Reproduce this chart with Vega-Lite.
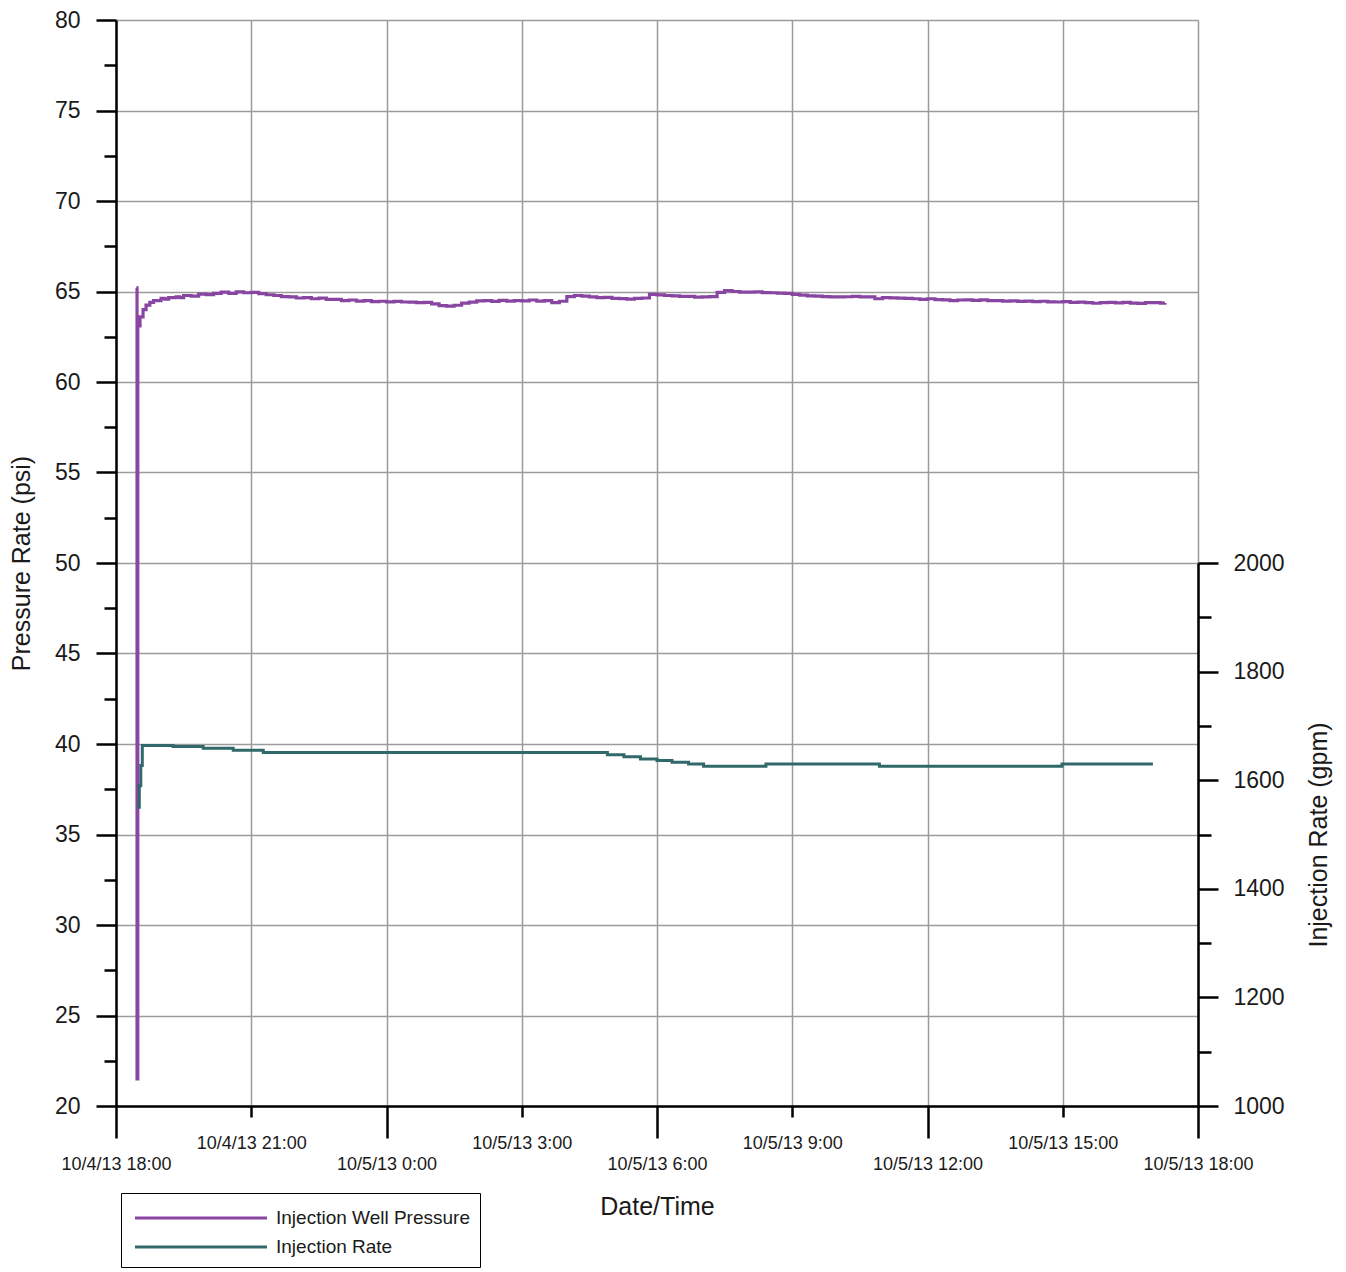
{
  "$schema": "https://vega.github.io/schema/vega-lite/v6.json",
  "width": 1082,
  "height": 1086,
  "autosize": {"type": "none"},
  "padding": {"left": 116, "top": 20, "right": 148, "bottom": 166},
  "background": "white",
  "config": {
    "view": {"stroke": null},
    "font": "Liberation Sans",
    "axis": {
      "domainColor": "#000000",
      "domainWidth": 2.5,
      "tickColor": "#000000",
      "tickWidth": 2.5,
      "gridColor": "#9b9b9b",
      "gridWidth": 1.5,
      "labelFont": "Liberation Sans",
      "labelColor": "#1a1a1a",
      "titleFont": "Liberation Sans",
      "titleFontWeight": "normal",
      "titleColor": "#1a1a1a",
      "titleFontSize": 25
    },
    "axisX": {"labelFontSize": 18},
    "axisY": {"labelFontSize": 23}
  },
  "datasets": {
    "pressure": [
      {"t": "2013-10-04T18:27", "p": 65.2},
      {"t": "2013-10-04T18:28", "p": 21.5},
      {"t": "2013-10-04T18:29", "p": 63.1},
      {"t": "2013-10-04T18:32", "p": 63.6},
      {"t": "2013-10-04T18:36", "p": 64.0},
      {"t": "2013-10-04T18:40", "p": 64.25},
      {"t": "2013-10-04T18:45", "p": 64.4},
      {"t": "2013-10-04T18:50", "p": 64.5},
      {"t": "2013-10-04T19:00", "p": 64.62},
      {"t": "2013-10-04T19:05", "p": 64.58},
      {"t": "2013-10-04T19:10", "p": 64.66},
      {"t": "2013-10-04T19:20", "p": 64.7},
      {"t": "2013-10-04T19:25", "p": 64.66},
      {"t": "2013-10-04T19:30", "p": 64.78},
      {"t": "2013-10-04T19:40", "p": 64.74},
      {"t": "2013-10-04T19:50", "p": 64.86},
      {"t": "2013-10-04T20:00", "p": 64.83},
      {"t": "2013-10-04T20:10", "p": 64.9},
      {"t": "2013-10-04T20:20", "p": 64.97},
      {"t": "2013-10-04T20:30", "p": 64.9},
      {"t": "2013-10-04T20:40", "p": 64.98},
      {"t": "2013-10-04T20:50", "p": 64.93},
      {"t": "2013-10-04T21:00", "p": 64.95},
      {"t": "2013-10-04T21:10", "p": 64.88},
      {"t": "2013-10-04T21:20", "p": 64.82},
      {"t": "2013-10-04T21:30", "p": 64.78},
      {"t": "2013-10-04T21:40", "p": 64.72},
      {"t": "2013-10-04T21:50", "p": 64.7},
      {"t": "2013-10-04T22:00", "p": 64.64},
      {"t": "2013-10-04T22:10", "p": 64.66},
      {"t": "2013-10-04T22:20", "p": 64.6},
      {"t": "2013-10-04T22:30", "p": 64.63},
      {"t": "2013-10-04T22:40", "p": 64.56},
      {"t": "2013-10-04T22:50", "p": 64.57},
      {"t": "2013-10-04T23:00", "p": 64.5},
      {"t": "2013-10-04T23:10", "p": 64.53},
      {"t": "2013-10-04T23:20", "p": 64.47},
      {"t": "2013-10-04T23:30", "p": 64.5},
      {"t": "2013-10-04T23:40", "p": 64.44},
      {"t": "2013-10-04T23:50", "p": 64.46},
      {"t": "2013-10-05T00:00", "p": 64.43},
      {"t": "2013-10-05T00:10", "p": 64.45},
      {"t": "2013-10-05T00:20", "p": 64.42},
      {"t": "2013-10-05T00:30", "p": 64.41},
      {"t": "2013-10-05T00:40", "p": 64.38},
      {"t": "2013-10-05T00:50", "p": 64.4},
      {"t": "2013-10-05T01:00", "p": 64.32},
      {"t": "2013-10-05T01:10", "p": 64.22},
      {"t": "2013-10-05T01:20", "p": 64.19},
      {"t": "2013-10-05T01:30", "p": 64.24},
      {"t": "2013-10-05T01:40", "p": 64.36},
      {"t": "2013-10-05T01:50", "p": 64.41},
      {"t": "2013-10-05T02:00", "p": 64.48},
      {"t": "2013-10-05T02:10", "p": 64.5},
      {"t": "2013-10-05T02:20", "p": 64.45},
      {"t": "2013-10-05T02:30", "p": 64.51},
      {"t": "2013-10-05T02:40", "p": 64.47},
      {"t": "2013-10-05T02:50", "p": 64.5},
      {"t": "2013-10-05T03:00", "p": 64.48},
      {"t": "2013-10-05T03:10", "p": 64.53},
      {"t": "2013-10-05T03:20", "p": 64.47},
      {"t": "2013-10-05T03:30", "p": 64.5},
      {"t": "2013-10-05T03:40", "p": 64.38},
      {"t": "2013-10-05T03:50", "p": 64.46},
      {"t": "2013-10-05T04:00", "p": 64.72},
      {"t": "2013-10-05T04:10", "p": 64.78},
      {"t": "2013-10-05T04:20", "p": 64.74},
      {"t": "2013-10-05T04:30", "p": 64.7},
      {"t": "2013-10-05T04:40", "p": 64.66},
      {"t": "2013-10-05T04:50", "p": 64.67},
      {"t": "2013-10-05T05:00", "p": 64.62},
      {"t": "2013-10-05T05:10", "p": 64.61},
      {"t": "2013-10-05T05:20", "p": 64.58},
      {"t": "2013-10-05T05:30", "p": 64.62},
      {"t": "2013-10-05T05:40", "p": 64.64},
      {"t": "2013-10-05T05:50", "p": 64.84},
      {"t": "2013-10-05T06:00", "p": 64.81},
      {"t": "2013-10-05T06:10", "p": 64.78},
      {"t": "2013-10-05T06:20", "p": 64.76},
      {"t": "2013-10-05T06:30", "p": 64.73},
      {"t": "2013-10-05T06:40", "p": 64.73},
      {"t": "2013-10-05T06:50", "p": 64.69},
      {"t": "2013-10-05T07:00", "p": 64.7},
      {"t": "2013-10-05T07:10", "p": 64.72},
      {"t": "2013-10-05T07:20", "p": 64.95},
      {"t": "2013-10-05T07:30", "p": 65.05},
      {"t": "2013-10-05T07:40", "p": 65.0},
      {"t": "2013-10-05T07:50", "p": 64.97},
      {"t": "2013-10-05T08:00", "p": 64.96},
      {"t": "2013-10-05T08:10", "p": 64.98},
      {"t": "2013-10-05T08:20", "p": 64.94},
      {"t": "2013-10-05T08:30", "p": 64.93},
      {"t": "2013-10-05T08:40", "p": 64.91},
      {"t": "2013-10-05T08:50", "p": 64.9},
      {"t": "2013-10-05T09:00", "p": 64.84},
      {"t": "2013-10-05T09:10", "p": 64.8},
      {"t": "2013-10-05T09:20", "p": 64.76},
      {"t": "2013-10-05T09:30", "p": 64.74},
      {"t": "2013-10-05T09:40", "p": 64.72},
      {"t": "2013-10-05T09:50", "p": 64.7},
      {"t": "2013-10-05T10:00", "p": 64.7},
      {"t": "2013-10-05T10:10", "p": 64.71},
      {"t": "2013-10-05T10:20", "p": 64.73},
      {"t": "2013-10-05T10:30", "p": 64.7},
      {"t": "2013-10-05T10:40", "p": 64.7},
      {"t": "2013-10-05T10:50", "p": 64.6},
      {"t": "2013-10-05T11:00", "p": 64.66},
      {"t": "2013-10-05T11:10", "p": 64.65},
      {"t": "2013-10-05T11:20", "p": 64.63},
      {"t": "2013-10-05T11:30", "p": 64.62},
      {"t": "2013-10-05T11:40", "p": 64.6},
      {"t": "2013-10-05T11:50", "p": 64.57},
      {"t": "2013-10-05T12:00", "p": 64.6},
      {"t": "2013-10-05T12:10", "p": 64.55},
      {"t": "2013-10-05T12:20", "p": 64.54},
      {"t": "2013-10-05T12:30", "p": 64.5},
      {"t": "2013-10-05T12:40", "p": 64.53},
      {"t": "2013-10-05T12:50", "p": 64.54},
      {"t": "2013-10-05T13:00", "p": 64.51},
      {"t": "2013-10-05T13:10", "p": 64.54},
      {"t": "2013-10-05T13:20", "p": 64.5},
      {"t": "2013-10-05T13:30", "p": 64.5},
      {"t": "2013-10-05T13:40", "p": 64.47},
      {"t": "2013-10-05T13:50", "p": 64.48},
      {"t": "2013-10-05T14:00", "p": 64.45},
      {"t": "2013-10-05T14:10", "p": 64.47},
      {"t": "2013-10-05T14:20", "p": 64.44},
      {"t": "2013-10-05T14:30", "p": 64.46},
      {"t": "2013-10-05T14:40", "p": 64.43},
      {"t": "2013-10-05T14:50", "p": 64.42},
      {"t": "2013-10-05T15:00", "p": 64.44},
      {"t": "2013-10-05T15:10", "p": 64.4},
      {"t": "2013-10-05T15:20", "p": 64.41},
      {"t": "2013-10-05T15:30", "p": 64.39},
      {"t": "2013-10-05T15:40", "p": 64.35},
      {"t": "2013-10-05T15:50", "p": 64.38},
      {"t": "2013-10-05T16:00", "p": 64.4},
      {"t": "2013-10-05T16:10", "p": 64.37},
      {"t": "2013-10-05T16:20", "p": 64.4},
      {"t": "2013-10-05T16:30", "p": 64.36},
      {"t": "2013-10-05T16:40", "p": 64.34},
      {"t": "2013-10-05T16:50", "p": 64.38},
      {"t": "2013-10-05T17:00", "p": 64.39},
      {"t": "2013-10-05T17:10", "p": 64.36},
      {"t": "2013-10-05T17:16", "p": 64.37}
    ],
    "rate": [
      {"t": "2013-10-04T18:28", "r": 1550},
      {"t": "2013-10-04T18:31", "r": 1590},
      {"t": "2013-10-04T18:33", "r": 1627},
      {"t": "2013-10-04T18:35", "r": 1664},
      {"t": "2013-10-04T19:16", "r": 1662},
      {"t": "2013-10-04T19:56", "r": 1659},
      {"t": "2013-10-04T20:36", "r": 1655},
      {"t": "2013-10-04T21:16", "r": 1651},
      {"t": "2013-10-05T04:54", "r": 1647},
      {"t": "2013-10-05T05:16", "r": 1643},
      {"t": "2013-10-05T05:38", "r": 1639},
      {"t": "2013-10-05T06:00", "r": 1636.5},
      {"t": "2013-10-05T06:20", "r": 1633},
      {"t": "2013-10-05T06:42", "r": 1630},
      {"t": "2013-10-05T07:02", "r": 1625.5},
      {"t": "2013-10-05T08:25", "r": 1630},
      {"t": "2013-10-05T10:56", "r": 1625.5},
      {"t": "2013-10-05T14:59", "r": 1630},
      {"t": "2013-10-05T17:00", "r": 1630}
    ]
  },
  "encoding": {
    "x": {
      "field": "t",
      "type": "temporal",
      "scale": {
        "domain": [
          {"year": 2013, "month": 10, "date": 4, "hours": 18},
          {"year": 2013, "month": 10, "date": 5, "hours": 18}
        ]
      },
      "axis": {
        "title": "Date/Time",
        "values": [
          {"year": 2013, "month": 10, "date": 4, "hours": 18},
          {"year": 2013, "month": 10, "date": 4, "hours": 21},
          {"year": 2013, "month": 10, "date": 5, "hours": 0},
          {"year": 2013, "month": 10, "date": 5, "hours": 3},
          {"year": 2013, "month": 10, "date": 5, "hours": 6},
          {"year": 2013, "month": 10, "date": 5, "hours": 9},
          {"year": 2013, "month": 10, "date": 5, "hours": 12},
          {"year": 2013, "month": 10, "date": 5, "hours": 15},
          {"year": 2013, "month": 10, "date": 5, "hours": 18}
        ],
        "format": "%-m/%-d/%y %-H:%M",
        "labelOverlap": false,
        "labelFlush": false,
        "grid": true,
        "tickSize": {"condition": {"test": "hours(datum.value) % 6 === 0", "value": 32}, "value": 11},
        "labelPadding": 17,
        "titlePadding": 21
      }
    }
  },
  "layer": [
    {
      "data": {"name": "pressure"},
      "mark": {"type": "line", "strokeWidth": 3.2, "interpolate": "step-after"},
      "encoding": {
        "y": {
          "field": "p",
          "type": "quantitative",
          "scale": {"domain": [20, 80], "nice": false, "zero": false},
          "axis": {
            "title": "Pressure Rate (psi)",
            "values": [20, 22.5, 25, 27.5, 30, 32.5, 35, 37.5, 40, 42.5, 45, 47.5, 50, 52.5, 55, 57.5, 60, 62.5, 65, 67.5, 70, 72.5, 75, 77.5, 80],
            "labelExpr": "datum.value % 5 === 0 ? datum.label : ''",
            "tickSize": {"condition": {"test": "datum.value % 5 === 0", "value": 20}, "value": 12},
            "gridOpacity": {"condition": {"test": "datum.value % 5 === 0", "value": 1}, "value": 0},
            "labelPadding": 16,
            "titlePadding": 20,
            "labelOverlap": false
          }
        },
        "color": {
          "datum": "Injection Well Pressure",
          "type": "nominal",
          "scale": {
            "domain": ["Injection Well Pressure", "Injection Rate"],
            "range": ["#8845a1", "#31696a"]
          },
          "legend": {
            "title": null,
            "orient": "none",
            "legendX": 5,
            "legendY": 1173,
            "strokeColor": "#000000",
            "fillColor": "#ffffff",
            "padding": 10,
            "symbolType": "M-5,0H5",
            "symbolSize": 697,
            "symbolStrokeWidth": 3,
            "symbolOffset": 55,
            "labelFont": "Liberation Sans",
            "labelFontSize": 19,
            "labelColor": "#1a1a1a",
            "labelOffset": 60,
            "labelLimit": 400,
            "rowPadding": 4
          }
        }
      }
    },
    {
      "data": {"name": "rate"},
      "mark": {"type": "line", "strokeWidth": 3, "interpolate": "step-after"},
      "encoding": {
        "y": {
          "field": "r",
          "type": "quantitative",
          "scale": {"domain": [1000, 2000], "range": [1086, 543], "nice": false, "zero": false},
          "axis": {
            "orient": "right",
            "title": "Injection Rate (gpm)",
            "titleAngle": -90,
            "format": "d",
            "values": [1000, 1100, 1200, 1300, 1400, 1500, 1600, 1700, 1800, 1900, 2000],
            "labelExpr": "datum.value % 200 === 0 ? datum.label : ''",
            "tickSize": {"condition": {"test": "datum.value % 200 === 0", "value": 20}, "value": 13},
            "grid": false,
            "labelPadding": 15,
            "titlePadding": 47,
            "labelOverlap": false
          }
        },
        "color": {"datum": "Injection Rate", "type": "nominal"}
      }
    }
  ],
  "resolve": {"scale": {"y": "independent"}}
}
